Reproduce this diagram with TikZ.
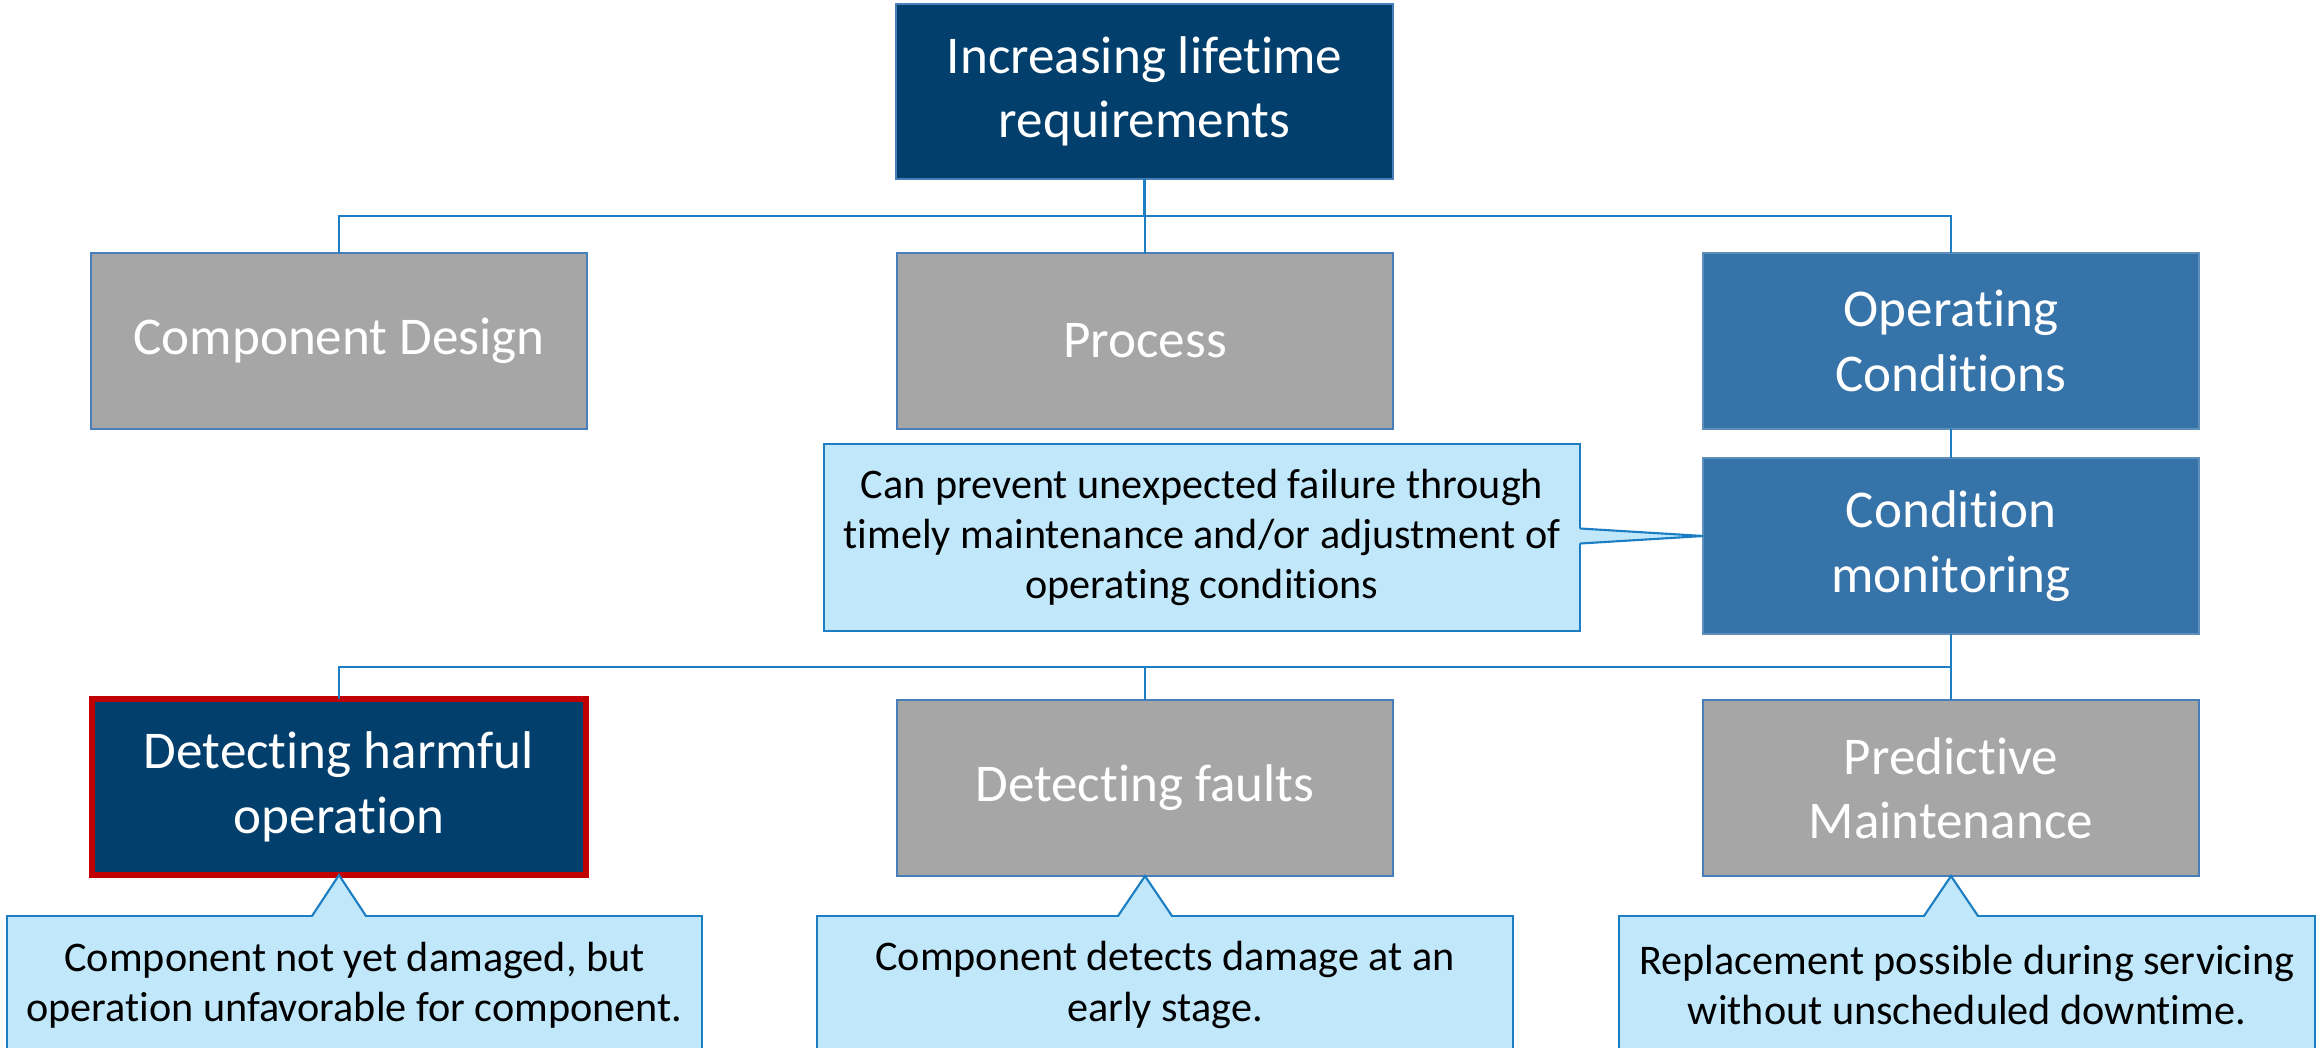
\documentclass[tikz,border=0pt]{standalone}
\usepackage{fontspec}
\setmainfont{Carlito}[Ligatures={NoCommon}]
\usetikzlibrary{calc}
\definecolor{navy}{HTML}{023F6D}
\definecolor{midblue}{HTML}{3673A9}
\definecolor{greybox}{HTML}{A6A6A6}
\definecolor{boxline}{HTML}{4A7EBB}
\definecolor{connline}{HTML}{1B7EC2}
\definecolor{callfill}{HTML}{C1E7FB}
\definecolor{redline}{HTML}{C00000}
\begin{document}
\begin{tikzpicture}[x=0.01cm,y=-0.01cm,
  box/.style={rectangle, draw=boxline, line width=0.6pt, minimum width=4.95cm, minimum height=1.76cm,
    inner sep=0pt, outer sep=0pt, align=center, text=white, font=\fontsize{15.1}{18.3}\selectfont},
  navybox/.style={box, fill=navy},
  bluebox/.style={box, fill=midblue, draw=midblue!80!white},
  greyb/.style={box, fill=greybox},
  redbox/.style={box, fill=navy, draw=redline, line width=1.7pt},
  callout/.style={rectangle, draw=connline, fill=callfill, line width=0.6pt, inner sep=0pt, outer sep=0pt,
    align=center, text=black, font=\fontsize{12.0}{14.3}\selectfont},
  conn/.style={draw=connline, line width=0.6pt},
  ptr/.style={draw=connline, fill=callfill, line width=0.6pt, line join=miter}
]
\useasboundingbox (0,0) rectangle (2323,1048);
\clip (0,0) rectangle (2323,1048);

% main boxes
\node[navybox, minimum width=4.97cm, minimum height=1.75cm] (top) at (1144.5,91.5) {Increasing lifetime\\requirements};
\node[greyb] (cd) at (339,341) {Component Design};
\node[greyb] (proc) at (1145,341) {Process};
\node[bluebox] (oc) at (1951,341) {Operating\\Conditions};
\node[bluebox] (cm) at (1951,546) {Condition\\monitoring};
\node[redbox, minimum width=4.93cm, minimum height=1.76cm] (dh) at (339,787) {Detecting harmful\\operation};
\node[greyb] (df) at (1145,788) {Detecting faults};
\node[greyb] (pm) at (1951,788) {Predictive\\Maintenance};

% bus coordinates
\coordinate (busA) at (0,216);
\coordinate (busB) at (0,667);

% connectors
\draw[conn] (top.south) -- (top.south |- busA);
\draw[conn] (cd.north) |- (busA -| oc.north) -- (oc.north);
\draw[conn] (proc.north) -- (proc.north |- busA);
\draw[conn] (oc.south) -- (cm.north);
\draw[conn] (dh.north) |- (busB -| cm.south) -- (cm.south);
\draw[conn] (df.north) -- (df.north |- busB);
\draw[conn] (pm.north) -- (pm.north |- busB);

% callouts
\node[callout, minimum width=7.56cm, minimum height=1.87cm] (ctop) at (1202,537.5)
  {Can prevent unexpected failure through\\timely maintenance and/or adjustment of\\operating conditions};
\node[callout, minimum width=6.95cm, minimum height=1.38cm] (c1) at (354.5,985)
  {Component not yet damaged, but\\operation unfavorable for component.};
\node[callout, minimum width=6.96cm, minimum height=1.38cm] (c2) at (1165,985)
  {Component detects damage at an\\early stage.};
\node[callout, minimum width=6.96cm, minimum height=1.38cm] (c3) at (1967,985)
  {Replacement possible during servicing\\without unscheduled downtime.};

% callout pointers
\fill[callfill] ($(ctop.east)+(-2,-9)$) -- ($(cm.west)+(0,-10)$) -- ($(ctop.east)+(-2,6)$) -- cycle;
\draw[conn] ($(ctop.east)+(0,-9)$) -- ($(cm.west)+(0,-10)$) -- ($(ctop.east)+(0,6)$);

\foreach \b/\c in {dh/c1, df/c2, pm/c3}{
  \fill[callfill] ($(\b.south |- \c.north)+(-27,2)$) -- (\b.south) -- ($(\b.south |- \c.north)+(27,2)$) -- cycle;
  \draw[conn] ($(\b.south |- \c.north)+(-27,0)$) -- (\b.south) -- ($(\b.south |- \c.north)+(27,0)$);
}
\end{tikzpicture}
\end{document}
